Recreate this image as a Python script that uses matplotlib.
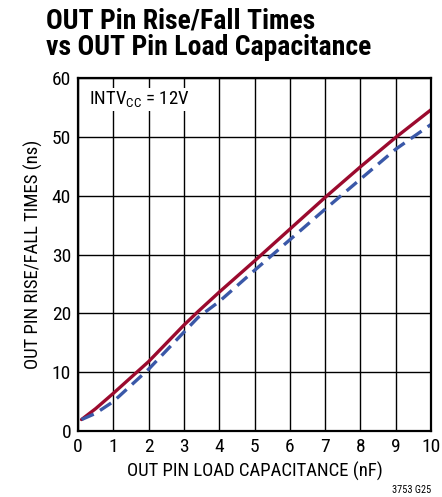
import matplotlib.pyplot as plt

plt.rcParams['font.family'] = ['Roboto Condensed', 'DejaVu Sans']
plt.rcParams['mathtext.fontset'] = 'custom'
plt.rcParams['mathtext.rm'] = 'Roboto Condensed'

# OUT pin load capacitance (nF)
cap = [0.1, 0.5, 1, 2, 3, 3.4, 4, 5, 6, 7, 8, 9, 10]
# rise time (ns), solid
rise = [1.95, 3.8, 6.4, 11.8, 18.0, 20.3, 23.6, 28.9, 34.3, 39.7, 44.9, 49.9, 54.6]
# fall time (ns), dashed
fall = [1.95, 3.0, 5.0, 10.5, 16.8, 19.3, 22.0, 27.3, 32.5, 37.7, 42.8, 47.9, 52.1]

W, H = 442, 497
fig = plt.figure(figsize=(W / 100, H / 100), dpi=100)
ax = fig.add_axes([78 / W, (H - 431) / H, 353 / W, 353 / H])

ax.plot(cap, rise, color='#9b0a2e', lw=2.4, solid_capstyle='round')
ax.plot(cap, fall, color='#3a58a8', lw=2.4, ls=(0, (4, 2.2)))

ax.set_xlim(0, 10)
ax.set_ylim(0, 60)
ax.set_xticks(range(0, 11))
ax.set_yticks(range(0, 61, 10))
ax.grid(True, color='black', lw=1.0)
ax.tick_params(length=0, labelsize=14, pad=5)
for s in ax.spines.values():
    s.set_linewidth(1.6)

ax.set_xlabel('OUT PIN LOAD CAPACITANCE (nF)', fontsize=13.5, labelpad=4)
ax.set_ylabel('OUT PIN RISE/FALL TIMES (ns)', fontsize=13.5, labelpad=6)

ax.text(0.3, 56.3, r'INTV$_{\mathregular{CC}}$ = 12V', fontsize=13.5,
        va='center', ha='left',
        bbox=dict(facecolor='white', edgecolor='none', pad=1))

fig.text(46 / W, 1 - 7 / H, 'OUT Pin Rise/Fall Times\nvs OUT Pin Load Capacitance',
         fontsize=20, fontweight='bold', va='top', ha='left', linespacing=1.02)
fig.text(431 / W, 1 - 490 / H, '3753 G25', fontsize=7.5, ha='right', va='center')

fig.savefig('out.png', dpi=100)
